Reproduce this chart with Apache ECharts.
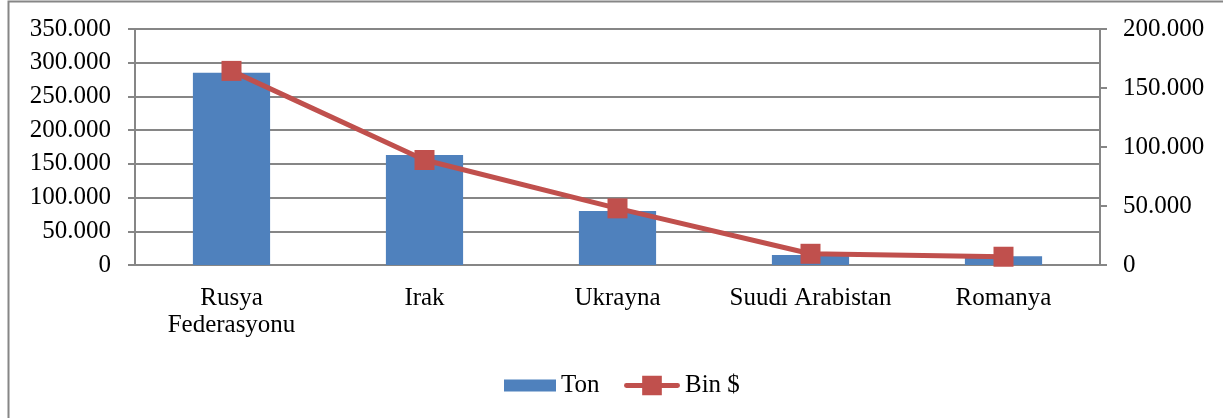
<!DOCTYPE html>
<html>
<head>
<meta charset="utf-8">
<script src="https://cdn.jsdelivr.net/npm/echarts@6/dist/echarts.min.js"></script>
<style>
  html, body { margin: 0; padding: 0; background: #fff; }
  #chart { width: 1223px; height: 418px; }
</style>
</head>
<body>
<div id="chart"></div>
<script>
var categories = ['Rusya\nFederasyonu', 'Irak', 'Ukrayna', 'Suudi Arabistan', 'Romanya'];
var tonValues = [285000, 163000, 80000, 15000, 13000];
var binDolarValues = [164500, 89000, 48000, 9500, 7000];

var chart = echarts.init(document.getElementById('chart'));
var font = 'Liberation Serif';
var gray = '#868686';

function fmt(v) {
    return v === 0 ? '0' : String(v).replace(/\B(?=(\d{3})+(?!\d))/g, '.');
}

var legendText = { fontFamily: font, fontSize: 25, color: '#000' };

var options = {
    animation: false,
    textStyle: { fontFamily: font },
    graphic: [{
        type: 'rect',
        shape: { x: 8.5, y: 1.5, width: 1230, height: 430 },
        style: { fill: 'none', stroke: gray, lineWidth: 2 }
    }],
    grid: { left: 135, right: 123, top: 29, bottom: 153 },
    legend: [{
        left: 504,
        top: 373,
        padding: 0,
        itemWidth: 52,
        itemHeight: 12,
        itemGap: 5,
        textStyle: legendText,
        data: [{ name: 'Ton', icon: 'rect' }]
    }, {
        left: 624,
        top: 373,
        padding: 0,
        itemWidth: 56,
        itemHeight: 20,
        textStyle: legendText,
        data: [{
            name: 'Bin $',
            icon: 'path://M2,7.5 L54,7.5 A2.5,2.5 0 0 1 54,12.5 L2,12.5 A2.5,2.5 0 0 1 2,7.5 Z M18,0 L38,0 L38,20 L18,20 Z'
        }]
    }],
    xAxis: {
        type: 'category',
        data: categories,
        axisLine: { lineStyle: { color: gray, width: 2 } },
        axisTick: { length: 8, lineStyle: { color: gray, width: 2 } },
        axisLabel: { interval: 0, color: '#000', fontSize: 25, lineHeight: 27, margin: 20, fontFamily: font }
    },
    yAxis: [{
        type: 'value',
        min: 0, max: 350000, interval: 50000,
        axisLine: { show: true, lineStyle: { color: gray, width: 2 } },
        axisTick: { show: true, length: 7, lineStyle: { color: gray, width: 2 } },
        axisLabel: { color: '#000', fontSize: 25, margin: 24, fontFamily: font, formatter: fmt },
        splitLine: { lineStyle: { color: gray, width: 2 } }
    }, {
        type: 'value',
        min: 0, max: 200000, interval: 50000,
        axisLine: { show: true, lineStyle: { color: gray, width: 2 } },
        axisTick: { show: true, length: 7, lineStyle: { color: gray, width: 2 } },
        axisLabel: { color: '#000', fontSize: 25, margin: 23, fontFamily: font, formatter: fmt },
        splitLine: { show: false }
    }],
    series: [{
        name: 'Ton',
        type: 'bar',
        data: tonValues,
        barWidth: '40%',
        itemStyle: { color: '#4F81BD' }
    }, {
        name: 'Bin $',
        type: 'line',
        yAxisIndex: 1,
        data: binDolarValues,
        symbol: 'rect',
        symbolSize: 20,
        lineStyle: { color: '#C0504D', width: 5 },
        itemStyle: { color: '#C0504D' }
    }]
};

chart.setOption(options);
</script>
</body>
</html>
